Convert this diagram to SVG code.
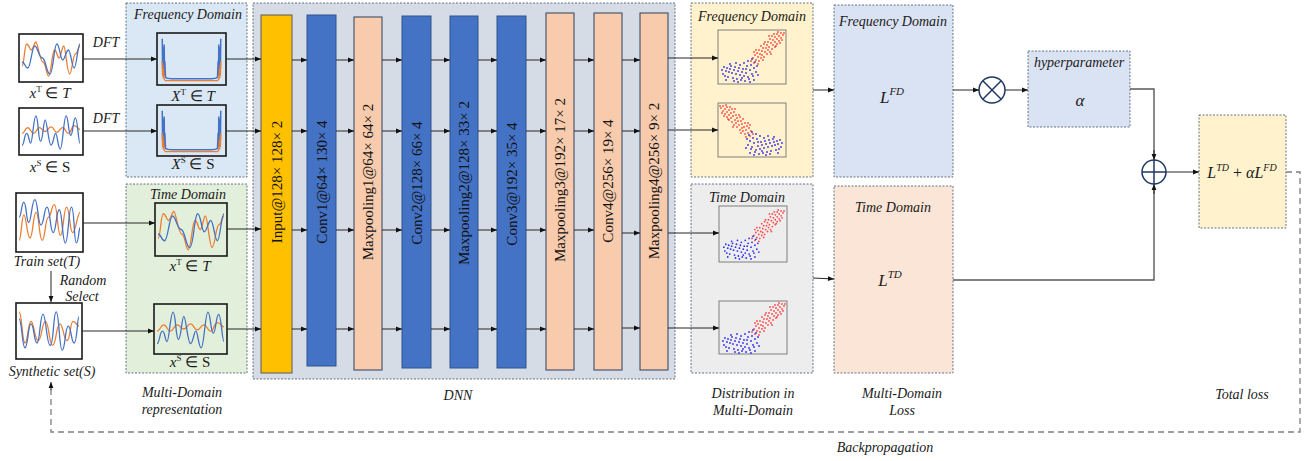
<svg xmlns="http://www.w3.org/2000/svg" width="1309" height="461" viewBox="0 0 1309 461">
<style>
.t{font-family:"Liberation Serif",serif;font-style:italic;font-size:14px;fill:#1a1a1a}
.mt{font-family:"Liberation Serif",serif;font-style:italic;font-size:17px;fill:#1a1a1a}
.m{font-family:"Liberation Serif",serif;font-size:15px;fill:#1a1a1a}
.bl{font-family:"Liberation Serif",serif;font-size:15px;fill:#111}
.panel{stroke:#44546A;stroke-width:0.8;stroke-dasharray:2,1.5}
.frame{fill:none;stroke:#1a1a1a;stroke-width:1.6}
.sbox{fill:none;stroke:#7F7F7F;stroke-width:1}
.sb{fill:none;stroke:#4472C4;stroke-width:1.3}
.so{fill:none;stroke:#ED7D31;stroke-width:1.3}
.ar{fill:none;stroke:#262626;stroke-width:1;marker-end:url(#ah)}
.ln{fill:none;stroke:#595959;stroke-width:1.4}
.rd{fill:none;stroke:#FF4A4A;stroke-width:1.8;stroke-linecap:round}
.bd{fill:none;stroke:#3030F0;stroke-width:1.8;stroke-linecap:round}
.bar{stroke-width:1}
</style>
<defs>
<marker id="ah" viewBox="0 0 10 10" refX="10" refY="5" markerWidth="7" markerHeight="6" orient="auto" markerUnits="userSpaceOnUse"><path d="M0,1 L10,5 L0,9 z" fill="#111"/></marker>
<path id="aB" vector-effect="non-scaling-stroke" class="sb" d="M0,60 C5,60 5,75 10,75 S17,20 22,20 S29,50 35,50 S42,90 48,90 S55,15 60,15 S66,55 70,55 S76,30 80,30 S86,75 90,75 S96,15 100,15"/>
<path id="aO" vector-effect="non-scaling-stroke" class="so" d="M0,70 C4,70 4,15 8,15 S13,30 16,30 S21,10 24,10 S31,60 36,60 S42,95 46,95 S52,30 56,30 S61,50 64,50 S69,20 72,20 S78,90 82,90 S88,40 92,40 S97,20 100,20"/>
<path id="bB" vector-effect="non-scaling-stroke" class="sb" d="M0,85 C4,85 4,55 8,55 S12,80 15,80 S20,10 24,10 S28,75 32,75 S37,20 40,20 S46,85 50,85 S55,55 58,55 S62,95 66,95 S72,10 76,10 S80,60 84,60 S88,15 92,15 S97,80 100,80"/>
<path id="bO" vector-effect="non-scaling-stroke" class="so" d="M0,55 C5,55 5,40 10,40 S15,55 20,55 S25,40 30,40 S35,50 40,50 S45,38 50,38 S55,52 60,52 S65,40 70,40 S75,55 80,55 S85,35 90,35 S97,45 100,45"/>
<path id="cB" vector-effect="non-scaling-stroke" class="sb" d="M0,40 C4,40 4,10 8,10 S12,50 16,50 S21,5 26,5 S31,55 36,55 S41,20 46,20 S51,70 56,70 S61,25 66,25 S71,90 76,90 S81,20 86,20 S90,90 94,90 S98,60 100,60"/>
<path id="cO" vector-effect="non-scaling-stroke" class="so" d="M0,85 C4,85 4,35 8,35 S13,80 18,80 S23,30 28,30 S33,85 38,85 S43,40 48,40 S53,15 58,15 S63,75 68,75 S73,20 78,20 S83,70 88,70 S96,30 100,30"/>
<path id="dB" vector-effect="non-scaling-stroke" class="sb" d="M0,25 C5,25 5,85 10,85 S15,35 20,35 S25,75 30,75 S35,15 40,15 S46,80 52,80 S57,10 62,10 S67,90 72,90 S77,40 82,40 S87,75 92,75 S97,20 100,20"/>
<path id="dO" vector-effect="non-scaling-stroke" class="so" d="M0,10 C5,10 5,75 10,75 S15,30 20,30 S26,70 32,70 S38,30 44,30 S50,80 56,80 S62,35 68,35 S74,70 80,70 S85,30 90,30 S97,40 100,40"/>
<g id="spec">
<path vector-effect="non-scaling-stroke" fill="none" stroke="#4472C4" stroke-width="1.5" d="M5,8 L5.5,70 L6,25 L6.5,80 L7,35 L7.5,60 L8,20 L8.5,85 L9,55 L10,88 Q12,91 20,91 L80,91 Q88,91 90,88 L91,55 L91.5,85 L92,20 L92.5,60 L93,35 L93.5,80 L94,25 L94.5,70 L95,8"/>
<path vector-effect="non-scaling-stroke" fill="none" stroke="#ED7D31" stroke-width="1.3" d="M5,55 L5.5,85 L6,62 L6.5,90 L7,70 L8,92 L10,95 L90,95 L92,92 L93,70 L93.5,90 L94,62 L94.5,85 L95,55"/>
</g>
<g id="redc"><path class="rd" vector-effect="non-scaling-stroke" d="M33,31h0M36,33h0M35,28h0M38,30h0M40,27h0M37,25h0M41,31h0M43,28h0M39,23h0M42,24h0M44,25h0M46,27h0M41,20h0M44,21h0M47,22h0M49,24h0M45,18h0M48,18h0M50,20h0M52,22h0M46,14h0M49,15h0M51,17h0M54,19h0M50,12h0M53,13h0M55,15h0M57,17h0M52,9h0M55,10h0M57,12h0M59,14h0M54,6h0M57,7h0M59,9h0M61,11h0M56,4h0M59,4h0M61,6h0M63,8h0M60,2h0M63,3h0M65,5h0M64,10h0M58,16h0M47,12h0M43,16h0M38,20h0M53,24h0M62,13h0M36,22h0M66,3h0M51,6h0M45,30h0M40,34h0"/></g>
<g id="bluec"><path class="bd" vector-effect="non-scaling-stroke" d="M4,40h0M6,37h0M8,41h0M5,44h0M9,38h0M11,42h0M7,46h0M12,39h0M14,43h0M10,47h0M13,36h0M16,40h0M18,44h0M15,48h0M17,37h0M20,41h0M22,45h0M19,49h0M21,38h0M24,42h0M26,46h0M23,50h0M25,39h0M28,43h0M30,47h0M27,51h0M29,36h0M32,40h0M34,44h0M31,49h0M33,35h0M36,38h0M38,42h0M35,46h0M37,32h0M30,31h0M26,33h0M34,29h0M39,36h0M22,35h0M18,33h0M12,34h0M28,39h0M24,48h0M20,52h0M32,52h0M16,51h0M8,50h0M36,50h0M40,45h0"/></g>
</defs>

<rect width="1309" height="461" fill="#fff"/>

<!-- Panels -->
<g id="freq-panel">
<rect class="panel" x="126" y="3" width="121" height="174" fill="#DAE8F5"/>
<text class="t" x="188" y="19" text-anchor="middle">Frequency Domain</text>
</g>
<g id="time-panel">
<rect class="panel" x="126" y="184" width="121" height="189" fill="#E2EFDA"/>
<text class="t" x="188" y="199" text-anchor="middle">Time Domain</text>
</g>
<g id="dnn-panel">
<rect class="panel" x="253" y="3" width="422" height="376" fill="#D6DCE5"/>
</g>
<g id="freq-dist-panel">
<rect class="panel" x="691" y="3" width="122" height="174" fill="#FFF2CC"/>
<text class="t" x="752" y="21" text-anchor="middle">Frequency Domain</text>
</g>
<g id="time-dist-panel">
<rect class="panel" x="691" y="184" width="122" height="189" fill="#EDEDED"/>
<text class="t" x="747" y="202" text-anchor="middle">Time Domain</text>
</g>

<!-- Input signals -->
<g id="xT-box">
<rect x="19" y="34" width="64" height="48" fill="#fff"/>
<svg x="22" y="38" width="58" height="40" viewBox="0 0 100 100" preserveAspectRatio="none"><use href="#aO"/><use href="#aB"/></svg>
<rect class="frame" x="19" y="34" width="64" height="48"/>
<text class="m" x="50" y="98" text-anchor="middle"><tspan font-style="italic">x</tspan><tspan dy="-6" font-size="9">T</tspan><tspan dy="6"> ∈ </tspan><tspan font-style="italic">T</tspan></text>
</g>
<g id="xS-box">
<rect x="19" y="108" width="64" height="47" fill="#fff"/>
<svg x="22" y="112" width="58" height="39" viewBox="0 0 100 100" preserveAspectRatio="none"><use href="#bO"/><use href="#bB"/></svg>
<rect class="frame" x="19" y="108" width="64" height="47"/>
<text class="m" x="50" y="172" text-anchor="middle"><tspan font-style="italic">x</tspan><tspan dy="-6" font-size="9">S</tspan><tspan dy="6"> ∈ S</tspan></text>
</g>
<g id="train-set">
<rect x="16" y="193" width="67" height="59" fill="#fff"/>
<svg x="19" y="197" width="61" height="51" viewBox="0 0 100 100" preserveAspectRatio="none"><use href="#cO"/><use href="#cB"/></svg>
<rect class="frame" x="16" y="193" width="67" height="59"/>
<text class="t" x="47" y="266" text-anchor="middle">Train set(T)</text>
</g>
<g id="synthetic-set">
<rect x="16" y="303" width="66" height="56" fill="#fff"/>
<svg x="19" y="307" width="60" height="48" viewBox="0 0 100 100" preserveAspectRatio="none"><use href="#dO"/><use href="#dB"/></svg>
<rect class="frame" x="16" y="303" width="66" height="56"/>
<text class="t" x="52" y="376" text-anchor="middle">Synthetic set(S)</text>
</g>
<g id="random-select">
<text class="t" x="83" y="285" text-anchor="middle">Random</text>
<text class="t" x="82" y="301" text-anchor="middle">Select</text>
</g>
<g id="dft-labels">
<text class="t" x="106" y="47" text-anchor="middle">DFT</text>
<text class="t" x="106" y="123" text-anchor="middle">DFT</text>
</g>

<!-- Frequency representation -->
<g id="XT-spec">
<svg x="159" y="35" width="65" height="48" viewBox="0 0 100 100" preserveAspectRatio="none"><use href="#spec"/></svg>
<rect class="frame" x="157" y="33" width="69" height="52"/>
<text class="m" x="193" y="101" text-anchor="middle"><tspan font-style="italic">X</tspan><tspan dy="-6" font-size="9">T</tspan><tspan dy="6"> ∈ </tspan><tspan font-style="italic">T</tspan></text>
</g>
<g id="XS-spec">
<svg x="159" y="107" width="65" height="47" viewBox="0 0 100 100" preserveAspectRatio="none"><use href="#spec"/></svg>
<rect class="frame" x="157" y="105" width="69" height="51"/>
<text class="m" x="193" y="169" text-anchor="middle"><tspan font-style="italic">X</tspan><tspan dy="-6" font-size="9">S</tspan><tspan dy="6"> ∈ S</tspan></text>
</g>
<!-- Time representation -->
<g id="xT-time">
<svg x="158" y="207" width="66" height="45" viewBox="0 0 100 100" preserveAspectRatio="none"><use href="#aO"/><use href="#aB"/></svg>
<rect class="frame" x="155" y="203" width="72" height="53"/>
<text class="m" x="190" y="271" text-anchor="middle"><tspan font-style="italic">x</tspan><tspan dy="-6" font-size="9">T</tspan><tspan dy="6"> ∈ </tspan><tspan font-style="italic">T</tspan></text>
</g>
<g id="xS-time">
<svg x="157" y="308" width="67" height="42" viewBox="0 0 100 100" preserveAspectRatio="none"><use href="#bO"/><use href="#bB"/></svg>
<rect class="frame" x="154" y="304" width="73" height="50"/>
<text class="m" x="190" y="367" text-anchor="middle"><tspan font-style="italic">x</tspan><tspan dy="-6" font-size="9">S</tspan><tspan dy="6"> ∈ S</tspan></text>
</g>
<g id="repr-label">
<text class="t" x="182" y="397" text-anchor="middle">Multi-Domain</text>
<text class="t" x="182" y="414" text-anchor="middle">representation</text>
</g>

<!-- DNN bars -->
<g id="input-bar"><rect class="bar" x="261" y="15" width="31" height="358" fill="#FFC000" stroke="#595959"/><text class="bl" transform="translate(276.5,182) rotate(-90)" text-anchor="middle" dominant-baseline="central">Input@128× 128× 2</text></g>
<g id="conv1"><rect class="bar" x="307" y="15" width="29" height="351" fill="#4472C4" stroke="#2F528F"/><text class="bl" transform="translate(321.5,182) rotate(-90)" text-anchor="middle" dominant-baseline="central">Conv1@64× 130× 4</text></g>
<g id="maxpool1"><rect class="bar" x="354" y="17" width="28" height="353" fill="#F8CBAD" stroke="#2F3F60"/><text class="bl" transform="translate(368,182) rotate(-90)" text-anchor="middle" dominant-baseline="central">Maxpooling1@64× 64× 2</text></g>
<g id="conv2"><rect class="bar" x="402" y="16" width="29" height="352" fill="#4472C4" stroke="#2F528F"/><text class="bl" transform="translate(416.5,183) rotate(-90)" text-anchor="middle" dominant-baseline="central">Conv2@128× 66× 4</text></g>
<g id="maxpool2"><rect class="bar" x="450" y="16" width="28" height="352" fill="#4472C4" stroke="#2F528F"/><text class="bl" transform="translate(464,183) rotate(-90)" text-anchor="middle" dominant-baseline="central">Maxpooling2@128× 33× 2</text></g>
<g id="conv3"><rect class="bar" x="497" y="16" width="29" height="352" fill="#4472C4" stroke="#2F528F"/><text class="bl" transform="translate(511.5,184) rotate(-90)" text-anchor="middle" dominant-baseline="central">Conv3@192× 35× 4</text></g>
<g id="maxpool3"><rect class="bar" x="546" y="13" width="28" height="357" fill="#F8CBAD" stroke="#2F3F60"/><text class="bl" transform="translate(560,180) rotate(-90)" text-anchor="middle" dominant-baseline="central">Maxpooling3@192× 17× 2</text></g>
<g id="conv4"><rect class="bar" x="594" y="13" width="28" height="357" fill="#F8CBAD" stroke="#2F3F60"/><text class="bl" transform="translate(608,181) rotate(-90)" text-anchor="middle" dominant-baseline="central">Conv4@256× 19× 4</text></g>
<g id="maxpool4"><rect class="bar" x="640" y="13" width="28" height="357" fill="#F8CBAD" stroke="#2F3F60"/><text class="bl" transform="translate(654,181) rotate(-90)" text-anchor="middle" dominant-baseline="central">Maxpooling4@256× 9× 2</text></g>
<text class="t" x="458" y="400" text-anchor="middle">DNN</text>

<!-- Scatter plots -->
<g id="scatter-fd-1"><rect class="sbox" x="718" y="30" width="68" height="54"/><g transform="translate(718,30)"><use href="#redc"/><use href="#bluec"/></g></g>
<g id="scatter-fd-2"><rect class="sbox" x="718" y="103" width="68" height="54"/><g transform="translate(786,103) scale(-1,1)"><use href="#redc"/><use href="#bluec"/></g></g>
<g id="scatter-td-1"><rect class="sbox" x="719" y="206" width="68" height="56"/><g transform="translate(720,208) scale(0.97,0.98)"><use href="#redc"/><use href="#bluec"/></g></g>
<g id="scatter-td-2"><rect class="sbox" x="719" y="301" width="68" height="53"/><g transform="translate(719,301)"><use href="#redc"/><use href="#bluec"/></g></g>
<g id="dist-label">
<text class="t" x="753" y="398" text-anchor="middle">Distribution in</text>
<text class="t" x="753" y="415" text-anchor="middle">Multi-Domain</text>
</g>

<!-- Loss boxes -->
<g id="loss-fd">
<rect class="panel" x="834" y="5" width="119" height="172" fill="#DAE3F3"/>
<text class="t" x="893" y="26" text-anchor="middle">Frequency Domain</text>
<text class="mt" x="892" y="103" text-anchor="middle">L<tspan dy="-8" font-size="11">FD</tspan></text>
</g>
<g id="loss-td">
<rect class="panel" x="834" y="186" width="119" height="187" fill="#FBE5D6"/>
<text class="t" x="893" y="212" text-anchor="middle">Time Domain</text>
<text class="mt" x="890" y="286" text-anchor="middle">L<tspan dy="-8" font-size="11">TD</tspan></text>
</g>
<g id="loss-label">
<text class="t" x="902" y="398" text-anchor="middle">Multi-Domain</text>
<text class="t" x="902" y="415" text-anchor="middle">Loss</text>
</g>

<g id="otimes">
<circle cx="992" cy="90" r="13" fill="#fff" stroke="#203864" stroke-width="1.5"/>
<path d="M982.8,80.8 L1001.2,99.2 M1001.2,80.8 L982.8,99.2" stroke="#203864" stroke-width="1.5"/>
</g>
<g id="hyperparameter">
<rect class="panel" x="1028" y="51" width="102" height="76" fill="#DAE3F3"/>
<text class="t" x="1079" y="67" text-anchor="middle">hyperparameter</text>
<text class="mt" x="1080" y="106" text-anchor="middle">α</text>
</g>
<g id="oplus">
<circle cx="1154" cy="172" r="12" fill="#fff" stroke="#203864" stroke-width="1.5"/>
<path d="M1142,172 H1166 M1154,160 V184" stroke="#203864" stroke-width="1.5"/>
</g>
<g id="total-loss">
<rect class="panel" x="1199" y="115" width="87" height="113" fill="#FFF2CC"/>
<text class="mt" x="1242" y="178" text-anchor="middle" style="font-size:16px">L<tspan dy="-7" font-size="10">TD</tspan><tspan dy="7" font-style="normal"> + </tspan>αL<tspan dy="-7" font-size="10">FD</tspan></text>
<text class="t" x="1242" y="399" text-anchor="middle">Total loss</text>
</g>
<text class="t" x="885" y="452" text-anchor="middle">Backpropagation</text>

<!-- Connectors -->
<g id="connectors">
<path class="ar" d="M83,59 H157"/>
<path class="ar" d="M83,131 H157"/>
<path class="ar" d="M83,223 H155"/>
<path class="ar" d="M82,331 H154"/>
<path class="ar" d="M51,271 V302" stroke="#595959"/>
<path class="ar" d="M226,59 H261"/>
<path class="ar" d="M226,131 H261"/>
<path class="ar" d="M227,229 H261"/>
<path class="ar" d="M227,329 H261"/>
<path class="ar" d="M292,60 H307"/><path class="ar" d="M292,131 H307"/><path class="ar" d="M292,230 H307"/><path class="ar" d="M292,329 H307"/>
<path class="ar" d="M336,60 H354"/><path class="ar" d="M336,131 H354"/><path class="ar" d="M336,230 H354"/><path class="ar" d="M336,329 H354"/>
<path class="ar" d="M382,60 H402"/><path class="ar" d="M382,131 H402"/><path class="ar" d="M382,230 H402"/><path class="ar" d="M382,329 H402"/>
<path class="ar" d="M431,60 H450"/><path class="ar" d="M431,131 H450"/><path class="ar" d="M431,230 H450"/><path class="ar" d="M431,329 H450"/>
<path class="ar" d="M478,60 H497"/><path class="ar" d="M478,131 H497"/><path class="ar" d="M478,230 H497"/><path class="ar" d="M478,329 H497"/>
<path class="ar" d="M526,60 H546"/><path class="ar" d="M526,131 H546"/><path class="ar" d="M526,230 H546"/><path class="ar" d="M526,329 H546"/>
<path class="ar" d="M574,60 H594"/><path class="ar" d="M574,131 H594"/><path class="ar" d="M574,230 H594"/><path class="ar" d="M574,329 H594"/>
<path class="ar" d="M622,60 H640"/><path class="ar" d="M622,131 H640"/><path class="ar" d="M622,233 H640"/><path class="ar" d="M622,328 H640"/>
<path class="ar" d="M668,58 H718"/>
<path class="ar" d="M668,130 H718"/>
<path class="ar" d="M668,233 H719"/>
<path class="ar" d="M668,328 H719"/>
<path class="ar" d="M813,90 H834"/>
<path class="ar" d="M813,278 L834,279"/>
<path class="ar" d="M953,90 H979"/>
<path class="ar" d="M1005,90 H1028"/>
<path class="ln" d="M1130,89 H1154 V158"/>
<path class="ar" d="M1154,150 V160"/>
<path class="ln" d="M953,280 H1154 V186"/>
<path class="ar" d="M1154,194 V184"/>
<path class="ar" d="M1166,172 H1199"/>
<path fill="none" stroke="#7F7F7F" stroke-width="1.3" stroke-dasharray="6,4" d="M1286,172 H1300 V432 H51 V386"/>
<path class="ar" d="M51,390 V382"/>
</g>
</svg>
